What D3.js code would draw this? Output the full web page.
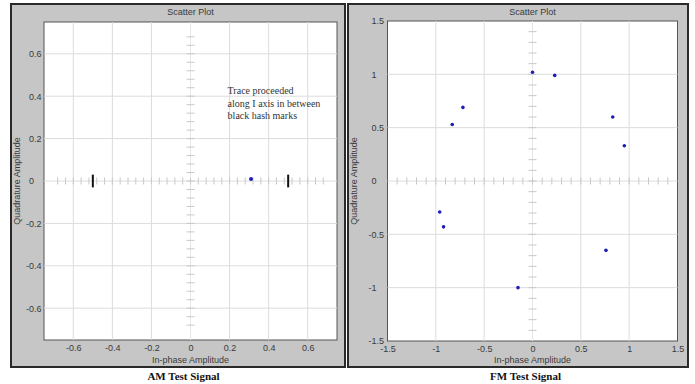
<!DOCTYPE html>
<html>
<head>
<meta charset="utf-8">
<script src="https://cdn.jsdelivr.net/npm/d3@7"></script>
<style>
  body { margin: 0; background: #fff; }
  svg { display: block; }
  .tick text { font-family: "Liberation Sans", Arial, sans-serif; font-size: 9px; fill: #3a3a3a; }
  .lbl { font-family: "Liberation Sans", Arial, sans-serif; font-size: 9px; fill: #3a3a3a; }
  .cap { font-family: "Liberation Serif", "Times New Roman", serif; font-size: 11px; font-weight: bold; fill: #111; }
  .note { font-family: "Liberation Serif", "Times New Roman", serif; font-size: 10px; fill: #333; }
</style>
</head>
<body>
<div class="chart"></div>
<script>
// AM panel
const amTicks = [-0.6, -0.4, -0.2, 0, 0.2, 0.4, 0.6]
const amI = [0.31]
const amQ = [0.01]
const amHashI = [-0.5, 0.5]
const amNote = ['Trace proceeded', 'along I axis in between', 'black hash marks']

// FM panel
const fmTicks = [-1.5, -1, -0.5, 0, 0.5, 1, 1.5]
const fmI = [0.0, 0.23, -0.72, -0.83, 0.83, 0.95, -0.96, -0.92, 0.76, -0.15]
const fmQ = [1.02, 0.99, 0.69, 0.53, 0.6, 0.33, -0.29, -0.43, -0.65, -1.0]

const svg = d3.select('.chart').append('svg')
  .attr('width', 695)
  .attr('height', 384)

function drawPanel(cfg) {
  const g = svg.append('g')

  // grey frame
  g.append('rect')
    .attr('x', cfg.frame[0]).attr('y', cfg.frame[1])
    .attr('width', cfg.frame[2]).attr('height', cfg.frame[3])
    .attr('fill', '#c6c6c6')
    .attr('stroke', '#2a2a2a')
    .attr('stroke-width', 2)

  const x = d3.scaleLinear().domain(cfg.domain).range(cfg.xr)
  const y = d3.scaleLinear().domain(cfg.domain).range(cfg.yr)

  g.append('rect')
    .attr('x', cfg.xr[0]).attr('y', cfg.yr[1])
    .attr('width', cfg.xr[1] - cfg.xr[0]).attr('height', cfg.yr[0] - cfg.yr[1])
    .attr('fill', '#fff')
    .attr('stroke', '#555')
    .attr('stroke-width', 1)

  // grid
  const inner = cfg.ticks.filter(t => t > cfg.domain[0] && t < cfg.domain[1])
  g.append('g').selectAll('line').data(inner).join('line')
    .attr('x1', d => x(d)).attr('x2', d => x(d))
    .attr('y1', cfg.yr[1]).attr('y2', cfg.yr[0])
    .attr('stroke', d => d === 0 ? '#e6e6e6' : '#dcdcdc')
  g.append('g').selectAll('line').data(inner).join('line')
    .attr('y1', d => y(d)).attr('y2', d => y(d))
    .attr('x1', cfg.xr[0]).attr('x2', cfg.xr[1])
    .attr('stroke', '#dcdcdc')

  // minor ticks along zero axes
  const minor = d3.range(Math.ceil(cfg.domain[0] / cfg.minor) + 1, Math.floor(cfg.domain[1] / cfg.minor))
    .map(k => k * cfg.minor)
  g.append('g').selectAll('line').data(minor).join('line')
    .attr('x1', d => x(d)).attr('x2', d => x(d))
    .attr('y1', y(0) - 3.5).attr('y2', y(0) + 3.5)
    .attr('stroke', '#c8c8c8')
  g.append('g').selectAll('line').data(minor).join('line')
    .attr('y1', d => y(d)).attr('y2', d => y(d))
    .attr('x1', x(0) - 4).attr('x2', x(0) + 4)
    .attr('stroke', '#c8c8c8')

  // tick labels
  const xAxis = g.append('g')
    .attr('transform', `translate(0,${cfg.yr[0]})`)
    .call(d3.axisBottom(x).tickValues(cfg.ticks).tickSize(0).tickPadding(5).tickFormat(d => String(d)))
  xAxis.select('.domain').remove()

  const yAxis = g.append('g')
    .attr('transform', `translate(${cfg.xr[0]},0)`)
    .call(d3.axisLeft(y).tickValues(cfg.ticks).tickSize(0).tickFormat(d => String(d)))
  yAxis.select('.domain').remove()
  yAxis.selectAll('.tick text')
    .attr('text-anchor', 'start')
    .attr('x', d => -cfg.yLabOff - (d < 0 ? 3 : 0))

  // titles
  const xMid = (cfg.xr[0] + cfg.xr[1]) / 2
  const yMid = (cfg.yr[0] + cfg.yr[1]) / 2
  g.append('text').attr('class', 'lbl')
    .attr('x', xMid).attr('y', cfg.frame[1] + 10.5)
    .attr('text-anchor', 'middle')
    .text('Scatter Plot')
  g.append('text').attr('class', 'lbl')
    .attr('x', xMid).attr('y', 363)
    .attr('text-anchor', 'middle')
    .text('In-phase Amplitude')
  g.append('text').attr('class', 'lbl')
    .attr('transform', `translate(${cfg.frame[0] + 9},${yMid}) rotate(-90)`)
    .attr('text-anchor', 'middle')
    .text('Quadrature Amplitude')

  // caption under the frame
  g.append('text').attr('class', 'cap')
    .attr('x', xMid - 7).attr('y', 380)
    .attr('text-anchor', 'middle')
    .text(cfg.caption)

  return { g, x, y }
}

// ---- AM ----
const am = drawPanel({
  frame: [11, 4, 334, 363],
  domain: [-0.75, 0.75],
  xr: [44, 337],
  yr: [340, 22],
  ticks: amTicks,
  minor: 0.04,
  yLabOff: 15,
  caption: 'AM Test Signal'
})

am.g.append('g').selectAll('line').data(amHashI).join('line')
  .attr('x1', d => am.x(d)).attr('x2', d => am.x(d))
  .attr('y1', am.y(0.03)).attr('y2', am.y(-0.03))
  .attr('stroke', '#111')
  .attr('stroke-width', 2)

am.g.append('g').selectAll('circle').data(amI).join('circle')
  .attr('cx', d => am.x(d))
  .attr('cy', (d, i) => am.y(amQ[i]))
  .attr('r', 2)
  .attr('fill', '#1e1eb4')

am.g.append('text').attr('class', 'note')
  .selectAll('tspan').data(amNote).join('tspan')
  .attr('x', am.x(0.19))
  .attr('y', (d, i) => am.y(0.41) + i * 12.5)
  .text(d => d)

// ---- FM ----
const fm = drawPanel({
  frame: [348, 4, 340, 363],
  domain: [-1.5, 1.5],
  xr: [387.5, 677.5],
  yr: [341, 21],
  ticks: fmTicks,
  minor: 0.1,
  yLabOff: 16,
  caption: 'FM Test Signal'
})

fm.g.append('g').selectAll('circle').data(fmI).join('circle')
  .attr('cx', d => fm.x(d))
  .attr('cy', (d, i) => fm.y(fmQ[i]))
  .attr('r', 1.8)
  .attr('fill', '#1e1eb4')
</script>
</body>
</html>
